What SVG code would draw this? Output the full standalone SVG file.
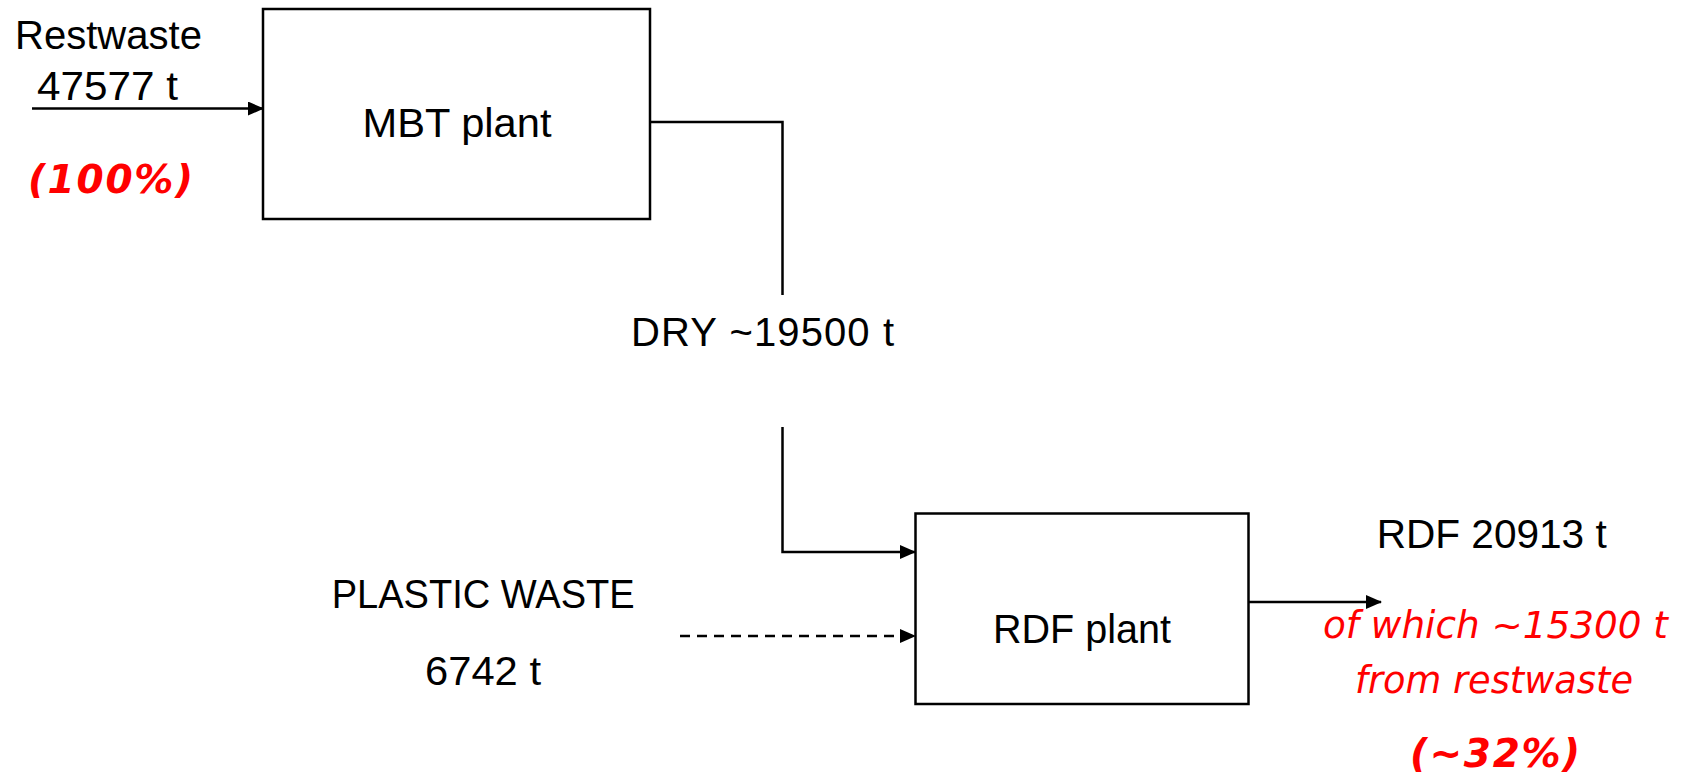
<svg xmlns="http://www.w3.org/2000/svg" width="1685" height="777" viewBox="0 0 1685 777">
<style>
.box{fill:#fff;stroke:#000;stroke-width:2.5}
.ln{fill:none;stroke:#000;stroke-width:2.5}
.dash{fill:none;stroke:#000;stroke-width:2.5;stroke-dasharray:10 7}
.t{font-family:"Liberation Sans",Arial,sans-serif;fill:#000;font-size:40px}
.r{font-family:"DejaVu Sans",Verdana,sans-serif;fill:#f00;font-style:italic;font-size:37px}
.rb{font-family:"DejaVu Sans",Verdana,sans-serif;fill:#f00;font-style:italic;font-weight:bold;font-size:39px}
</style>
<defs>
<marker id="ah" markerWidth="16" markerHeight="14" refX="15" refY="7" orient="auto" markerUnits="userSpaceOnUse">
<path d="M0,0 L16,7 L0,14 Z" fill="#000"/>
</marker>
</defs>
<g id="connectors">
<line class="ln" x1="32" y1="108.5" x2="263" y2="108.5" marker-end="url(#ah)"/>
<polyline class="ln" points="650,122 782.5,122 782.5,295"/>
<polyline class="ln" points="782.5,427 782.5,552 915,552" marker-end="url(#ah)"/>
<line class="dash" x1="680" y1="636" x2="915" y2="636" marker-end="url(#ah)"/>
<line class="ln" x1="1248" y1="602" x2="1381" y2="602" marker-end="url(#ah)"/>
</g>
<g id="mbt">
<rect class="box" x="263" y="9" width="387" height="210"/>
<text class="t" x="362.5" y="136.7" font-size="34" textLength="189" lengthAdjust="spacingAndGlyphs">MBT plant</text>
</g>
<g id="rdf">
<rect class="box" x="915.5" y="513.5" width="333" height="190.5"/>
<text class="t" x="993" y="642.7" textLength="178" lengthAdjust="spacingAndGlyphs">RDF plant</text>
</g>
<g id="restwaste">
<text class="t" x="15" y="49" font-size="37" textLength="187" lengthAdjust="spacingAndGlyphs">Restwaste</text>
<text class="t" x="37" y="100" font-size="39" textLength="141" lengthAdjust="spacingAndGlyphs">47577 t</text>
<text class="rb" x="28" y="193" textLength="165" lengthAdjust="spacing">(100%)</text>
</g>
<g id="dry">
<text class="t" x="631" y="345.7" textLength="263" lengthAdjust="spacing">DRY ~19500 t</text>
</g>
<g id="plastic">
<text class="t" x="331.7" y="608.3" textLength="303" lengthAdjust="spacingAndGlyphs">PLASTIC WASTE</text>
<text class="t" x="425" y="685" textLength="116" lengthAdjust="spacingAndGlyphs">6742 t</text>
</g>
<g id="output">
<text class="t" x="1376.7" y="547.7" textLength="230" lengthAdjust="spacingAndGlyphs">RDF 20913 t</text>
<text class="r" x="1323" y="638" textLength="345" lengthAdjust="spacingAndGlyphs">of which ~15300 t</text>
<text class="r" x="1355" y="692.7" textLength="278" lengthAdjust="spacingAndGlyphs">from restwaste</text>
<text class="rb" x="1410" y="767" textLength="170" lengthAdjust="spacing">(~32%)</text>
</g>
</svg>
